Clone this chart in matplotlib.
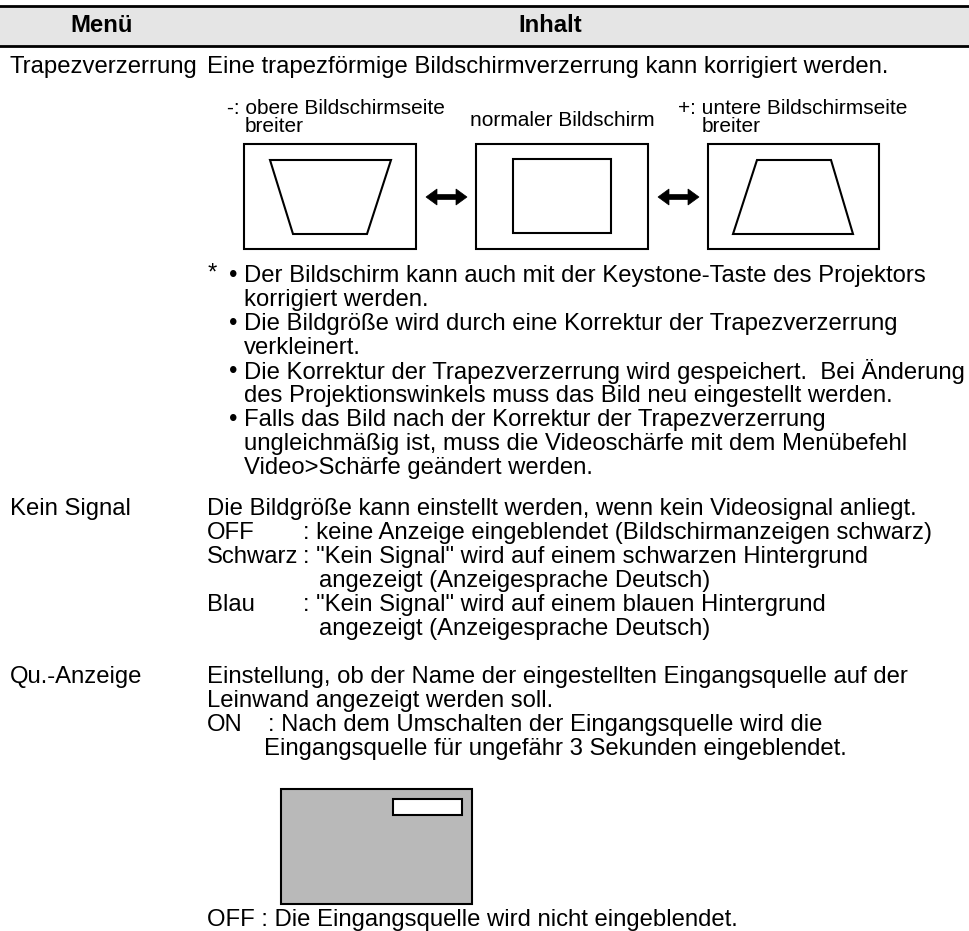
import matplotlib
matplotlib.use("Agg")
import matplotlib.pyplot as plt
from matplotlib.patches import Rectangle, Polygon

plt.rcParams['font.family'] = ['Liberation Sans', 'DejaVu Sans']

# --- texts of the table ---
header = ["Menü", "Inhalt"]
menu_items = ["Trapezverzerrung", "Kein Signal", "Qu.-Anzeige"]

keystone_intro = "Eine trapezförmige Bildschirmverzerrung kann korrigiert werden."
diagram_labels = [["-: obere Bildschirmseite", "breiter"],
                  ["normaler Bildschirm"],
                  ["+: untere Bildschirmseite", "breiter"]]
keystone_notes = [
    ("•", "Der Bildschirm kann auch mit der Keystone-Taste des Projektors"),
    ("", "korrigiert werden."),
    ("•", "Die Bildgröße wird durch eine Korrektur der Trapezverzerrung"),
    ("", "verkleinert."),
    ("•", "Die Korrektur der Trapezverzerrung wird gespeichert.  Bei Änderung"),
    ("", "des Projektionswinkels muss das Bild neu eingestellt werden."),
    ("•", "Falls das Bild nach der Korrektur der Trapezverzerrung"),
    ("", "ungleichmäßig ist, muss die Videoschärfe mit dem Menübefehl"),
    ("", "Video>Schärfe geändert werden."),
]

nosignal_intro = "Die Bildgröße kann einstellt werden, wenn kein Videosignal anliegt."
nosignal_opts = [
    ("OFF", ": keine Anzeige eingeblendet (Bildschirmanzeigen schwarz)"),
    ("Schwarz", ": \"Kein Signal\" wird auf einem schwarzen Hintergrund"),
    ("", "angezeigt (Anzeigesprache Deutsch)"),
    ("Blau", ": \"Kein Signal\" wird auf einem blauen Hintergrund"),
    ("", "angezeigt (Anzeigesprache Deutsch)"),
]

source_intro = ["Einstellung, ob der Name der eingestellten Eingangsquelle auf der",
                "Leinwand angezeigt werden soll."]
source_on = ("ON", ": Nach dem Umschalten der Eingangsquelle wird die",
             "Eingangsquelle für ungefähr 3 Sekunden eingeblendet.")
source_off = "OFF : Die Eingangsquelle wird nicht eingeblendet."

FS = 17.2
SMALL = 15
LW = 1.5

fig = plt.figure(figsize=(9.70, 9.31), dpi=100)
ax = fig.add_axes([0, 0, 1, 1])
ax.set_xlim(0, 970)
ax.set_ylim(931, 0)
ax.axis('off')

# header band
ax.add_patch(Rectangle((0, 6), 970, 40, facecolor='#e5e5e5', edgecolor='none'))
ax.plot([0, 970], [6, 6], color='black', lw=2)
ax.plot([0, 970], [46, 46], color='black', lw=2)
ax.text(102, 25, header[0], fontsize=FS, fontweight='bold', ha='center', va='center')
ax.text(550, 25, header[1], fontsize=FS, fontweight='bold', ha='center', va='center')

LX, RX = 10, 207


def txt(x, y, s, size=FS, **kw):
    ax.text(x, y, s, fontsize=size, ha=kw.pop('ha', 'left'), va='center', **kw)


# --- Trapezverzerrung ---
txt(LX, 67, menu_items[0])
txt(RX, 67, keystone_intro)

txt(227, 108, diagram_labels[0][0], SMALL)
txt(245, 126, diagram_labels[0][1], SMALL)
txt(562, 120, diagram_labels[1][0], SMALL, ha='center')
txt(678, 108, diagram_labels[2][0], SMALL)
txt(702, 126, diagram_labels[2][1], SMALL)

boxes = [(244, 416), (476, 648), (708, 879)]
for x0, x1 in boxes:
    ax.add_patch(Rectangle((x0, 144), x1 - x0, 105, fill=False, edgecolor='black', lw=LW))

ax.add_patch(Polygon([(270, 160), (391, 160), (367, 234), (293, 234)], closed=True,
                     fill=False, edgecolor='black', lw=LW))
ax.add_patch(Rectangle((513, 159), 98, 74, fill=False, edgecolor='black', lw=LW))
ax.add_patch(Polygon([(757, 160), (831, 160), (853, 234), (733, 234)], closed=True,
                     fill=False, edgecolor='black', lw=LW))


def double_arrow(x0, x1, y, hl=11, hw=8, sw=2.5):
    pts = [(x0, y), (x0 + hl, y - hw), (x0 + hl, y - sw), (x1 - hl, y - sw),
           (x1 - hl, y - hw), (x1, y), (x1 - hl, y + hw), (x1 - hl, y + sw),
           (x0 + hl, y + sw), (x0 + hl, y + hw)]
    ax.add_patch(Polygon(pts, closed=True, facecolor='black', edgecolor='black', lw=0.5))


double_arrow(426, 467, 197)
double_arrow(658, 699, 197)

y = 276
txt(208, y - 2, "*")
for bullet, line in keystone_notes:
    if bullet:
        txt(229, y, bullet)
    txt(244, y, line)
    y += 24

# --- Kein Signal ---
txt(LX, 509, menu_items[1])
txt(RX, 509, nosignal_intro)
y = 533
for key, line in nosignal_opts:
    if key:
        txt(RX, y, key)
        txt(303, y, line)
    else:
        txt(319, y, line)
    y += 24

# --- Qu.-Anzeige ---
txt(LX, 677, menu_items[2])
y = 677
for line in source_intro:
    txt(RX, y, line)
    y += 24
txt(RX, y, source_on[0])
txt(268, y, source_on[1])
y += 24
txt(264, y, source_on[2])

ax.add_patch(Rectangle((281, 789), 191, 115, facecolor='#b9b9b9', edgecolor='black', lw=LW))
ax.add_patch(Rectangle((393, 799), 69, 16, facecolor='white', edgecolor='black', lw=LW))

txt(RX, 920, source_off)

fig.savefig("out.png", dpi=100)
